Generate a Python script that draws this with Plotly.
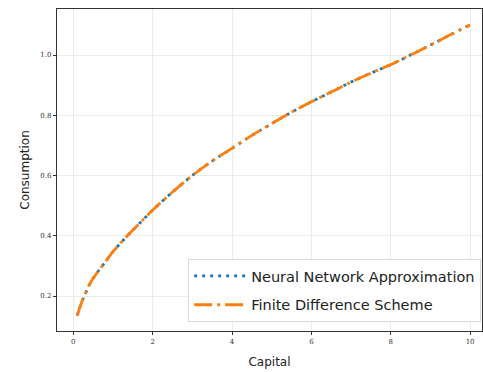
import plotly.graph_objects as go

capital = [0.1, 0.2, 0.3, 0.45, 0.6, 0.8, 1.0, 1.2, 1.4, 1.7, 2.0, 2.5, 3.0, 3.5,
           4.0, 4.5, 5.0, 5.5, 6.0, 6.5, 7.0, 7.5, 8.0, 8.5, 9.0, 9.5, 10.0]
consumption_nn = [0.135, 0.175, 0.207, 0.248, 0.277, 0.312, 0.347, 0.377, 0.405, 0.445,
                  0.485, 0.545, 0.600, 0.648, 0.690, 0.733, 0.772, 0.810, 0.845, 0.877,
                  0.910, 0.940, 0.968, 1.000, 1.033, 1.067, 1.100]
consumption_fd = [0.135, 0.175, 0.207, 0.248, 0.277, 0.312, 0.347, 0.377, 0.405, 0.445,
                  0.485, 0.545, 0.600, 0.648, 0.690, 0.733, 0.772, 0.810, 0.845, 0.877,
                  0.910, 0.940, 0.968, 1.000, 1.033, 1.067, 1.100]
x_ticks = [0, 2, 4, 6, 8, 10]
x_tick_labels = ["0", "2", "4", "6", "8", "10"]
y_ticks = [0.2, 0.4, 0.6, 0.8, 1.0]
y_tick_labels = ["0.2", "0.4", "0.6", "0.8", "1.0"]

fig = go.Figure()
fig.add_trace(go.Scatter(
    x=capital, y=consumption_nn, mode="lines", name="Neural Network Approximation",
    legendgroup="nn",
    line=dict(color="#1f77b4", width=2.8, dash="3px,5px", shape="spline"),
))
fig.add_trace(go.Scatter(
    x=capital, y=consumption_fd, mode="lines", name="Finite Difference Scheme",
    legendgroup="fd",
    line=dict(color="#ff7f0e", width=2.8, dash="18px,5px,3px,5px", shape="spline"),
))

axis_common = dict(
    showgrid=True, gridcolor="#ebebeb", gridwidth=1,
    showline=True, linecolor="#333333", linewidth=1.2, mirror=True,
    ticks="outside", ticklen=3, tickwidth=1, tickcolor="#333333",
    zeroline=False,
    tickfont=dict(family="DejaVu Serif", size=7, color="#333333"),
)

fig.update_layout(
    width=483, height=372,
    margin=dict(l=57, r=1, t=9, b=41),
    paper_bgcolor="white", plot_bgcolor="white",
    font=dict(family="DejaVu Sans", color="#222222"),
    xaxis=dict(
        range=[-0.41, 10.3], tickvals=x_ticks, ticktext=x_tick_labels,
        title=dict(text="Capital", font=dict(family="DejaVu Sans", size=12), standoff=13),
        **axis_common,
    ),
    yaxis=dict(
        range=[0.0838, 1.1527], tickvals=y_ticks, ticktext=y_tick_labels,
        title=dict(text="Consumption", font=dict(family="DejaVu Sans", size=12), standoff=8),
        **axis_common,
    ),
    legend=dict(
        x=0.998, y=0.028, xanchor="right", yanchor="bottom",
        bgcolor="white", bordercolor="#d9d9d9", borderwidth=1,
        font=dict(family="DejaVu Sans", size=14.5, color="#222222"),
        tracegroupgap=7, traceorder="grouped", itemwidth=52,
    ),
    showlegend=True,
)

fig.write_html("out.html")
